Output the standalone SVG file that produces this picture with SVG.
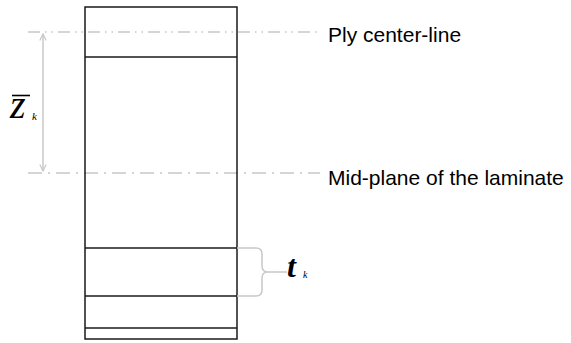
<svg xmlns="http://www.w3.org/2000/svg" width="571" height="343" viewBox="0 0 571 343">
<defs>
<style>
.ply{fill:none;stroke:#1a1a1a;stroke-width:1.5}
.sep{stroke:#1a1a1a;stroke-width:1.5}
.cl1{stroke:#c8c8c8;stroke-width:1.5;fill:none;stroke-dasharray:12 5 1.5 5 1.5 5}
.cl2{stroke:#c8c8c8;stroke-width:1.5;fill:none;stroke-dasharray:14 6 2 6}
.gray{stroke:#c8c8c8;stroke-width:1.5;fill:none}
.lbl{font-family:"Liberation Sans",Arial,sans-serif;font-size:21px;fill:#000}
.math{font-family:"Liberation Serif","Times New Roman",serif;font-style:italic;fill:#000}
</style>
<marker id="vhead" viewBox="0 0 10 10" refX="9" refY="5" markerWidth="8" markerHeight="8" markerUnits="userSpaceOnUse" orient="auto-start-reverse">
<path d="M1,1 L9,5 L1,9" fill="none" stroke="#c8c8c8" stroke-width="1.5"/>
</marker>
</defs>
<rect width="571" height="343" fill="#fff"/>
<g id="connectors">
<line class="cl1" x1="28" y1="32" x2="317" y2="32"/>
<line class="cl2" x1="28" y1="173" x2="320" y2="173"/>
</g>
<g id="laminate">
<rect class="ply" x="85" y="7" width="152" height="332"/>
<line class="sep" x1="85" y1="57" x2="237" y2="57"/>
<line class="sep" x1="85" y1="248" x2="237" y2="248"/>
<line class="sep" x1="85" y1="296" x2="237" y2="296"/>
<line class="sep" x1="85" y1="328" x2="237" y2="328"/>
</g>
<g id="dimensions">
<line class="gray" x1="43" y1="34" x2="43" y2="171" marker-start="url(#vhead)" marker-end="url(#vhead)"/>
<path class="gray" d="M237,248 H256 Q262,248 262,254 V266 Q262,272 268,272 H287 M268,272 Q262,272 262,278 V290 Q262,296 256,296 H237"/>
</g>
<g id="label-zk">
<line x1="12" y1="95.5" x2="30" y2="95.5" stroke="#000" stroke-width="1.6"/>
<text class="math" x="10" y="118" font-size="40">z</text>
<text class="math" x="32" y="120" font-size="11">k</text>
</g>
<g id="label-tk">
<text class="math" x="287" y="277" font-size="32" font-weight="bold">t</text>
<text class="math" x="303" y="278" font-size="10">k</text>
</g>
<g id="label-ply">
<text class="lbl" x="328" y="42">Ply center-line</text>
</g>
<g id="label-mid">
<text class="lbl" x="328" y="185">Mid-plane of the laminate</text>
</g>
</svg>
